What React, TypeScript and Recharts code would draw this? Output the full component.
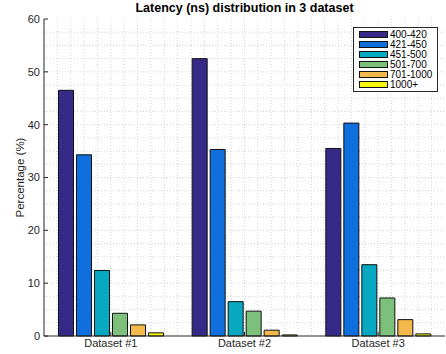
import { Bar, BarChart, CartesianGrid, Legend, XAxis, YAxis } from "recharts";

const datasets = ["Dataset #1", "Dataset #2", "Dataset #3"];
const ranges = ["400-420", "421-450", "451-500", "501-700", "701-1000", "1000+"];
const colors = ["#352a87", "#0f6fdd", "#07a9c2", "#7cc07b", "#f3b94b", "#f8f80a"];

// percentage per latency range, one value per dataset
const r400 = [46.5, 52.5, 35.5];
const r421 = [34.3, 35.3, 40.3];
const r451 = [12.4, 6.5, 13.5];
const r501 = [4.3, 4.7, 7.2];
const r701 = [2.1, 1.1, 3.1];
const r1000 = [0.6, 0.2, 0.4];

const yTicks = [0, 10, 20, 30, 40, 50, 60];

const series = [r400, r421, r451, r501, r701, r1000];
const data = datasets.map((name, i) => {
  const row: Record<string, string | number> = { name };
  ranges.forEach((r, j) => {
    row[r] = series[j][i];
  });
  return row;
});

const font = "'Liberation Sans', Arial, sans-serif";
const axisColor = "#262626";

function LegendBox(props: any) {
  // keep the series order, recharts sorts the payload by name
  const items = [...(props.payload || [])].sort(
    (a: any, b: any) => ranges.indexOf(a.value) - ranges.indexOf(b.value)
  );
  return (
    <div
      style={{
        border: "1px solid #262626",
        background: "#fff",
        padding: "2px 3px 2px 5px",
        fontFamily: font,
        fontSize: 10,
        color: "#000",
        whiteSpace: "nowrap",
      }}
    >
      {items.map((it: any) => (
        <div key={it.value} style={{ display: "flex", alignItems: "center", height: 9.9 }}>
          <span
            style={{
              display: "inline-block",
              flex: "none",
              width: 27,
              height: 5,
              background: it.color,
              border: "1px solid #111",
              marginRight: 2,
            }}
          />
          <span style={{ lineHeight: "9px" }}>{it.value}</span>
        </div>
      ))}
    </div>
  );
}

export default function App() {
  return (
    <div style={{ position: "absolute", left: 0, top: 0, width: 446, height: 354, background: "#fff" }}>
      <div
        style={{
          position: "absolute",
          left: 44,
          width: 401,
          top: 1,
          textAlign: "center",
          fontFamily: font,
          fontWeight: "bold",
          fontSize: 12.5,
          color: "#000",
          zIndex: 2,
        }}
      >
        Latency (ns) distribution in 3 dataset
      </div>
      <BarChart
        width={446}
        height={354}
        data={data}
        margin={{ top: 19, right: 1, bottom: 0, left: 14 }}
        barCategoryGap={14.5}
        barGap={3}
      >
        <CartesianGrid
          stroke="#d4d4d4"
          strokeDasharray="1 2"
          verticalCoordinatesGenerator={({ offset }: any) =>
            Array.from({ length: 29 }, (_, k) => offset.left + (offset.width * (k + 1)) / 30)
          }
          horizontalCoordinatesGenerator={({ offset }: any) =>
            Array.from({ length: 23 }, (_, k) => offset.top + (offset.height * (k + 1)) / 24)
          }
        />
        <XAxis
          xAxisId="bottom"
          dataKey="name"
          height={18}
          stroke={axisColor}
          tickSize={-4}
          tickMargin={7}
          tick={{ fill: axisColor, fontSize: 11, fontFamily: font }}
        />
        <XAxis
          xAxisId="top"
          orientation="top"
          dataKey="name"
          height={0}
          stroke={axisColor}
          tickSize={-4}
          tick={false}
        />
        <YAxis
          yAxisId="left"
          width={30}
          domain={[0, 60]}
          ticks={yTicks}
          stroke={axisColor}
          tickSize={-4}
          tickMargin={8}
          tick={{ fill: axisColor, fontSize: 11, fontFamily: font }}
          label={{
            value: "Percentage (%)",
            angle: -90,
            position: "insideLeft",
            offset: 6,
            style: { fill: axisColor, fontSize: 11.5, fontFamily: font, textAnchor: "middle" },
          }}
        />
        <YAxis
          yAxisId="right"
          orientation="right"
          width={0}
          domain={[0, 60]}
          ticks={yTicks}
          stroke={axisColor}
          tickSize={-4}
          tick={false}
        />
        <Legend
          layout="vertical"
          align="center"
          verticalAlign="middle"
          content={<LegendBox />}
          wrapperStyle={{ top: 27, left: 353, width: 85 }}
        />
        {ranges.map((r, j) => (
          <Bar
            key={r}
            dataKey={r}
            name={r}
            xAxisId="bottom"
            yAxisId="left"
            fill={colors[j]}
            stroke="#111"
            strokeWidth={1}
            isAnimationActive={false}
          />
        ))}
      </BarChart>
    </div>
  );
}
